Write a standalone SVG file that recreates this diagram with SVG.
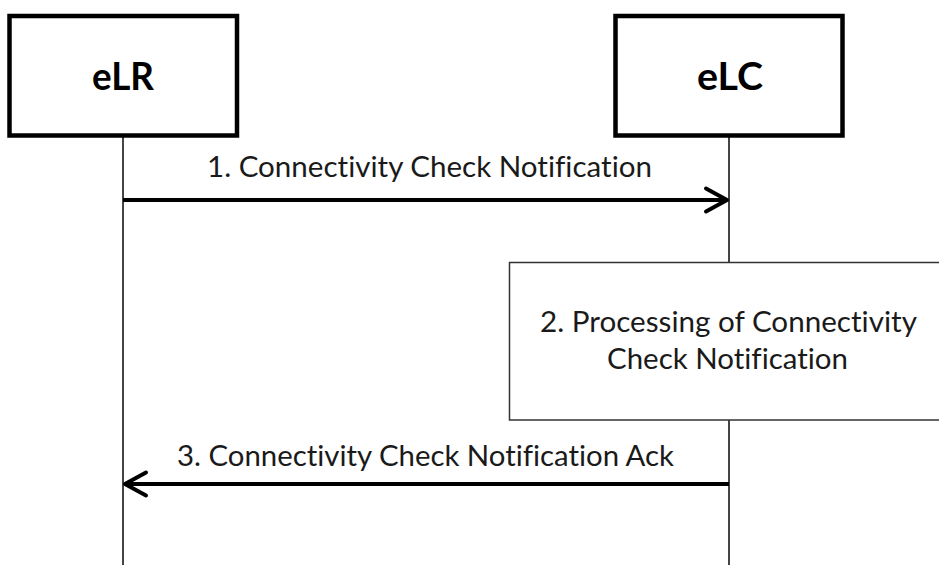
<svg xmlns="http://www.w3.org/2000/svg" width="939" height="565" viewBox="0 0 939 565">
  <style>
    text { font-variant-ligatures: none; font-feature-settings: "liga" 0, "dlig" 0; }
    .actor { fill: #ffffff; stroke: #000000; stroke-width: 4.5; }
    .actor-label { font-family: Lato, "Liberation Sans", sans-serif; font-weight: bold; font-size: 38px; fill: #000000; text-anchor: middle; }
    .lifeline { stroke: #444444; stroke-width: 2; fill: none; }
    .msg { stroke: #000000; stroke-width: 4; fill: none; }
    .msg-label { font-family: Lato, "Liberation Sans", sans-serif; font-size: 28.5px; fill: #1a1a1a; text-anchor: middle; }
    .proc { fill: #ffffff; stroke: #333333; stroke-width: 1.5; }
  </style>
  <defs>
    <marker id="arrow" markerUnits="userSpaceOnUse" markerWidth="30" markerHeight="30" refX="21" refY="11.5" orient="auto" overflow="visible">
      <path d="M 0 0 L 21 11.5 L 0 23" fill="none" stroke="#000000" stroke-width="4" stroke-linecap="round" stroke-linejoin="round"/>
    </marker>
  </defs>

  <g id="lifelines">
    <line class="lifeline" x1="123" y1="137" x2="123" y2="565"/>
    <line class="lifeline" x1="729" y1="137" x2="729" y2="565"/>
  </g>

  <g id="eLR">
    <rect class="actor" x="9.5" y="16" width="227.5" height="119.5"/>
    <text class="actor-label" x="123" y="90" textLength="62" lengthAdjust="spacingAndGlyphs">eLR</text>
  </g>

  <g id="eLC">
    <rect class="actor" x="615.5" y="16" width="227" height="119.5"/>
    <text class="actor-label" x="730" y="90" textLength="66" lengthAdjust="spacingAndGlyphs">eLC</text>
  </g>

  <g id="connectors">
    <line class="msg" x1="123" y1="200" x2="727" y2="200" marker-end="url(#arrow)"/>
    <line class="msg" x1="729" y1="484" x2="125" y2="484" marker-end="url(#arrow)"/>
  </g>

  <g id="msg1-label">
    <text class="msg-label" x="429.5" y="177" textLength="445" lengthAdjust="spacingAndGlyphs">1. Connectivity Check Notification</text>
  </g>

  <g id="processing">
    <rect class="proc" x="509.5" y="262.5" width="440" height="157.5"/>
    <text class="msg-label" x="728.5" y="332" textLength="377" lengthAdjust="spacingAndGlyphs">2. Processing of Connectivity</text>
    <text class="msg-label" x="727.5" y="369" textLength="241" lengthAdjust="spacingAndGlyphs">Check Notification</text>
  </g>

  <g id="msg3-label">
    <text class="msg-label" x="425.5" y="466" textLength="497" lengthAdjust="spacingAndGlyphs">3. Connectivity Check Notification Ack</text>
  </g>
</svg>
